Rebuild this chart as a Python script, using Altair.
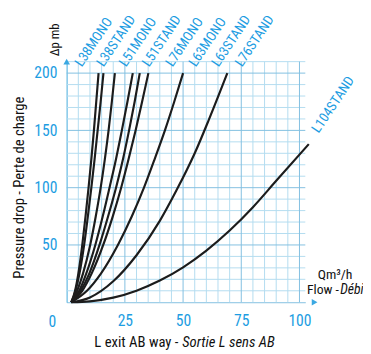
import altair as alt
import pandas as pd

FONT = "Liberation Sans Narrow, Roboto Condensed, DejaVu Sans Condensed, Arial Narrow, sans-serif"
BLUE = "#1d9de2"

# ---- curves (flow m3/h vs pressure drop mb) ----
steep_y = [0, 10, 25, 50, 75, 100, 125, 150, 175, 200]
l38mono_x = [2.0, 3.6, 5.0, 6.7, 8.1, 9.4, 10.6, 11.7, 12.7, 13.7]
l38stand_x = [2.0, 3.8, 5.5, 7.5, 9.1, 10.6, 12.0, 13.3, 14.6, 15.8]
l51mono_x = [2.0, 4.5, 7.0, 10.1, 12.5, 14.6, 16.4, 18.0, 19.4, 20.7]
l51stand_x = [2.0, 5.4, 8.4, 12.3, 15.5, 18.4, 21.2, 23.7, 26.1, 28.4]
l76mono_x = [2.0, 6.0, 9.7, 14.1, 17.8, 21.2, 24.2, 26.8, 29.2, 31.4]
l63mono_x = [2.0, 6.7, 10.7, 15.7, 19.8, 23.4, 26.6, 29.6, 32.4, 35.1]
l63stand_x = [2.0, 8.7, 14.7, 22.0, 28.0, 33.2, 37.8, 42.2, 46.2, 50.0]
l76stand_x = [2, 10, 20, 30, 40, 47, 55, 61, 69]
l76stand_y = [0, 4.2, 18.3, 41, 71, 97, 130, 159, 200]
l104stand_x = [2, 10, 20, 30, 40, 50, 60, 70, 80, 90, 104]
l104stand_y = [0, 0.8, 4.0, 10.1, 18.9, 30.5, 45.1, 62.6, 83, 106, 138]

# ---- curve labels ----
label_names = ["L38MONO", "L38STAND", "L51MONO", "L51STAND", "L76MONO",
               "L63MONO", "L63STAND", "L76STAND", "L104STAND"]
label_x = [6.5, 15.8, 25.5, 35.4, 45.5, 55.4, 65.2, 75.3, 108.2]
label_y = [205, 205, 205, 205, 205, 205, 205, 205, 147]

# ---- axes / grid ----
x_ticks = [25, 50, 75, 100]
y_ticks = [50, 100, 150, 200]
x_minor = [0, 5, 10, 15, 20, 30, 35, 40, 45, 55, 60, 65, 70, 80, 85, 90, 95]
y_minor = [10, 20, 30, 40, 60, 70, 80, 90, 110, 120, 130, 140, 160, 170, 180, 190, 210]

rows = []
series = [
    ("a", l38mono_x, steep_y), ("b", l38stand_x, steep_y), ("c", l51mono_x, steep_y),
    ("d", l51stand_x, steep_y), ("e", l76mono_x, steep_y), ("f", l63mono_x, steep_y),
    ("g", l63stand_x, steep_y), ("h", l76stand_x, l76stand_y), ("i", l104stand_x, l104stand_y),
]
for name, xs_, ys_ in series:
    for i, (xv, yv) in enumerate(zip(xs_, ys_)):
        rows.append({"curve": name, "x": xv, "y": yv, "o": i})
curves_df = pd.DataFrame(rows)

labels_df = pd.DataFrame({"x": label_x, "y": label_y, "t": label_names})

XD = [0, 102.5]
YD = [0, 210]
xs = alt.Scale(domain=XD, nice=False, zero=False)
ys = alt.Scale(domain=YD, nice=False, zero=False)
MINOR = "#b3dcf0"
MAJOR = "#82bfe0"

X_AXIS = alt.Axis(
    values=x_ticks, grid=False, ticks=False, domain=True, domainColor=MAJOR,
    labelColor=BLUE, labelFont=FONT, labelFontSize=16, labelPadding=11,
    labelFlush=False, labelOverlap=False, title=None)
Y_AXIS = alt.Axis(
    values=y_ticks, grid=False, ticks=False, domain=True, domainColor="#4aaee0",
    labelColor=BLUE, labelFont=FONT, labelFontSize=16, labelPadding=10,
    labelFlush=False, labelOverlap=False, title=None)


def X(field="x"):
    return alt.X(f"{field}:Q", scale=xs, axis=X_AXIS)


def Y(field="y"):
    return alt.Y(f"{field}:Q", scale=ys, axis=Y_AXIS)


vgrid_minor = alt.Chart(pd.DataFrame({"x": x_minor})).mark_rule(color=MINOR, strokeWidth=1).encode(
    x=X(), y=alt.value(0), y2=alt.value(246))
hgrid_minor = alt.Chart(pd.DataFrame({"y": y_minor})).mark_rule(color=MINOR, strokeWidth=1).encode(
    y=Y(), x=alt.value(0), x2=alt.value(244))
vgrid_major = alt.Chart(pd.DataFrame({"x": x_ticks})).mark_rule(color=MAJOR, strokeWidth=1).encode(
    x=X(), y=alt.value(0), y2=alt.value(246))
hgrid_major = alt.Chart(pd.DataFrame({"y": y_ticks})).mark_rule(color=MAJOR, strokeWidth=1).encode(
    y=Y(), x=alt.value(0), x2=alt.value(244))

lines = alt.Chart(curves_df).mark_line(
    color="#1c1c1c", strokeWidth=2.2, interpolate="monotone"
).encode(x=X(), y=Y(), detail="curve:N", order="o:Q")

curve_labels = alt.Chart(labels_df).mark_text(
    angle=304, align="left", baseline="alphabetic", font=FONT, fontSize=14, color=BLUE
).encode(x=X(), y=Y(), text="t:N")

ann_df = pd.DataFrame({
    "x": [-6.1, -4.8, -20.6, 115.3, 103.2],
    "y": [-17.5, 229, 100, 24, 11],
    "t": ["0", "Δp mb", "Pressure drop - Perte de charge", "Qm³/h", "Flow -"],
    "ang": [0, 270, 270, 0, 0],
    "col": [BLUE, "#111111", "#111111", "#111111", "#111111"],
    "fs": [16, 13, 15, 14, 14],
    "al": ["center", "center", "center", "center", "left"],
})


def ann(i):
    r = ann_df.iloc[[i]]
    return alt.Chart(r).mark_text(
        angle=int(r["ang"].iloc[0]), align=r["al"].iloc[0], baseline="middle",
        font=FONT, fontSize=int(r["fs"].iloc[0]), color=r["col"].iloc[0]
    ).encode(x=X(), y=Y(), text="t:N")


ann_layers = [ann(i) for i in range(len(ann_df))]

debit = alt.Chart(pd.DataFrame({"x": [117.5], "y": [11], "t": ["Débit"]})).mark_text(
    align="left", baseline="middle", font=FONT, fontSize=14, fontStyle="italic", color="#111111"
).encode(x=X(), y=Y(), text="t:N")

xt1 = alt.Chart(pd.DataFrame({"x": [48.0], "y": [-35], "t": ["L exit AB way -"]})).mark_text(
    align="right", baseline="middle", font=FONT, fontSize=15, color="#111111"
).encode(x=X(), y=Y(), text="t:N")
xt2 = alt.Chart(pd.DataFrame({"x": [49.6], "y": [-35], "t": ["Sortie L sens AB"]})).mark_text(
    align="left", baseline="middle", font=FONT, fontSize=15, fontStyle="italic", color="#111111"
).encode(x=X(), y=Y(), text="t:N")

arrows_df = pd.DataFrame({"x": [0, 106.5], "y": [210, 0], "s": ["triangle-up", "triangle-right"]})
arrows = alt.Chart(arrows_df).mark_point(filled=True, size=45, color="#3aa8e2", opacity=1).encode(
    x=X(), y=Y(), shape=alt.Shape("s:N", scale=None, legend=None),
)

chart = alt.layer(
    vgrid_minor, hgrid_minor, vgrid_major, hgrid_major,
    lines, curve_labels, arrows, debit, xt1, xt2, *ann_layers
).properties(
    width=244, height=246,
    autosize=alt.AutoSizeParams(type="none"),
    padding={"left": 60, "top": 51, "right": 59, "bottom": 46},
).configure_view(stroke=None)

chart.save("out.html", embed_options={"renderer": "svg", "actions": False})
